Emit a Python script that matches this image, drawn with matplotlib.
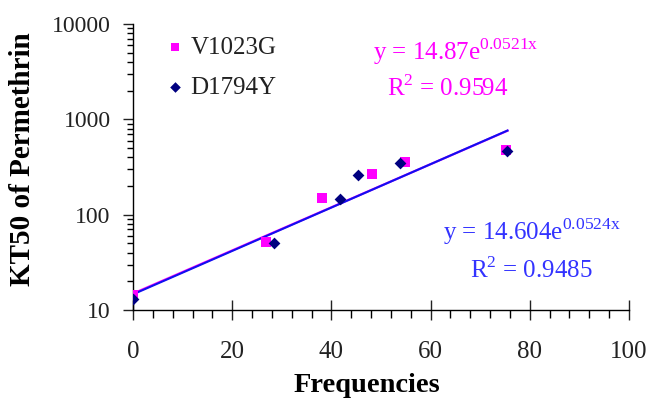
import numpy as np
import matplotlib
matplotlib.use("Agg")
import matplotlib.pyplot as plt
from matplotlib.ticker import LogLocator, FixedLocator, NullFormatter

plt.rcParams['font.family'] = ['Liberation Serif', 'DejaVu Serif']
plt.rcParams['mathtext.fontset'] = 'custom'
plt.rcParams['mathtext.rm'] = 'Liberation Serif'

# Data
v_x = [0, 26.8, 38.2, 48.1, 54.8, 75.3]
v_y = [14.4, 52, 148, 265, 358, 480]
d_x = [0, 28.5, 41.7, 45.4, 53.8, 75.5]
d_y = [13.2, 51, 145, 262, 352, 468]

# Exponential fits from the chart
v_a, v_b = 14.87, 0.0521
d_a, d_b = 14.604, 0.0524
fit_xmax = 75.5

fig = plt.figure(figsize=(6.49, 4.01), dpi=100)
ax = fig.add_axes([0.2049, 0.2269, 0.7643, 0.7132])

xf = np.linspace(0, fit_xmax, 200)
ax.plot(xf, v_a * np.exp(v_b * xf), color='#FF00FF', lw=1.6, zorder=2)
ax.plot(xf, d_a * np.exp(d_b * xf), color='#1010F0', lw=1.5, zorder=3)

ax.scatter(v_x, v_y, marker='s', s=46, color='#FF00FF', zorder=4, label='V1023G', linewidths=0)
ax.scatter(d_x, d_y, marker='D', s=36, color='#000080', zorder=5, label='D1794Y', linewidths=0)

ax.set_yscale('log')
ax.set_xlim(0, 100)
ax.set_ylim(10, 10000)

for s in ['top', 'right']:
    ax.spines[s].set_visible(False)
for s in ['left', 'bottom']:
    ax.spines[s].set_linewidth(1.0)

ax.set_xticks([0, 20, 40, 60, 80, 100])
ax.xaxis.set_minor_locator(FixedLocator(np.arange(0, 101, 4)))
ax.set_yticks([10, 100, 1000, 10000])
ax.set_yticklabels(['10', '100', '1000', '10000'])
ax.yaxis.set_minor_locator(LogLocator(base=10, subs=np.arange(2, 10)))
ax.yaxis.set_minor_formatter(NullFormatter())

ax.tick_params(axis='x', which='major', direction='inout', length=14, width=1, pad=15, labelsize=18, colors='#222222')
ax.tick_params(axis='x', which='minor', direction='out', length=6, width=1)
ax.tick_params(axis='y', which='major', direction='out', length=7, width=1, pad=9, labelsize=17, colors='#222222')
ax.tick_params(axis='y', which='minor', direction='out', length=4, width=1)

fig.text(367 / 649, 1 - 386 / 401, 'Frequencies', fontsize=20.5, fontweight='bold',
         ha='center', va='center')
fig.text(23 / 649, 1 - 159 / 401, 'KT50 of Permethrin', fontsize=21, fontweight='bold',
         ha='center', va='center', rotation=90)

leg = ax.legend(loc='upper left', bbox_to_anchor=(0.01, 1.035), frameon=False, fontsize=18,
                handletextpad=0.0, labelspacing=0.7, markerscale=0.9, handlelength=1.2)
for t in leg.get_texts():
    t.set_color('#222222')

ax.text(0.651, 0.905, r'y = 14.87e$^{\mathrm{0.0521x}}$', transform=ax.transAxes, color='#FF00FF',
        fontsize=18, ha='center', va='center')
ax.text(0.635, 0.776, r'R$^{\mathrm{2}}$ = 0.9594', transform=ax.transAxes, color='#FF00FF',
        fontsize=18, ha='center', va='center')
ax.text(0.804, 0.273, r'y = 14.604e$^{\mathrm{0.0524x}}$', transform=ax.transAxes, color='#3333FF',
        fontsize=18, ha='center', va='center')
ax.text(0.804, 0.140, r'R$^{\mathrm{2}}$ = 0.9485', transform=ax.transAxes, color='#3333FF',
        fontsize=18, ha='center', va='center')

fig.savefig('out.png', dpi=100)
